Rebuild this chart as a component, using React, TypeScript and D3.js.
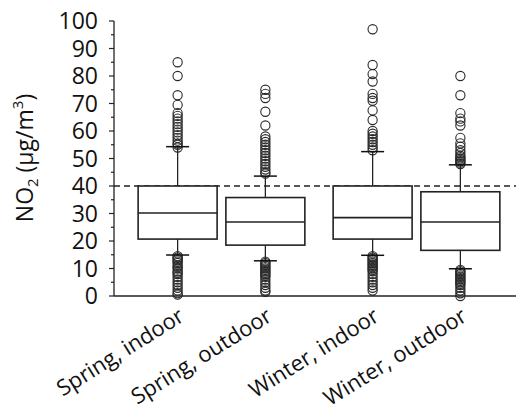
import * as d3 from "d3";
import { useEffect, useRef } from "react";

const seasons = ["Spring", "Winter"];
const places = ["indoor", "outdoor"];
const labels = ["Spring, indoor", "Spring, outdoor", "Winter, indoor", "Winter, outdoor"];

// box stats: [lowWhisker, q1, median, q3, highWhisker]
const springIndoor = [14.9, 20.7, 30.2, 40, 54.3];
const springOutdoor = [12.8, 18.5, 26.9, 35.8, 43.6];
const winterIndoor = [14.8, 20.7, 28.5, 40, 52.5];
const winterOutdoor = [9.9, 16.6, 26.9, 37.9, 47.7];

const springIndoorOut = [85, 80, 73, 69.5, 66.5, 65.5, 64.5, 63.5, 62.5, 61.5, 60.5, 59.5, 58.5, 57.5, 56.5, 55.5, 55, 54,
  14.5, 14, 13.5, 13, 12.5, 12, 11, 10.5, 10, 9, 8.5, 8, 7, 6, 5, 4, 3, 2, 1, 0.5];
const springOutdoorOut = [75, 73.5, 72, 67, 62, 58, 57, 56, 55, 54, 53, 52, 51, 50, 49, 48, 47, 46, 45, 44.5,
  12.5, 12, 11.5, 11, 10.5, 10, 9.5, 9, 8.5, 8, 7.5, 7, 6, 5, 4, 3, 2, 1.5];
const winterIndoorOut = [97, 84, 80.7, 78, 73.5, 72, 71, 67.5, 64, 60, 59, 58, 57, 56, 55, 54, 53,
  14.5, 14, 13.5, 13, 12.5, 12, 11.5, 11, 10.5, 10, 9.5, 9, 8, 7, 6, 5, 4, 3, 2];
const winterOutdoorOut = [80, 73, 66.5, 64.5, 63.5, 62, 57.5, 55.5, 54.3, 53, 52, 51, 50.5, 50, 49.5, 49, 48.5, 48,
  9.5, 9, 8.5, 8, 7.5, 7, 6.5, 6, 5.5, 5, 4.5, 4, 3, 2, 1, 0];

const yTicks = [0, 10, 20, 30, 40, 50, 60, 70, 80, 90, 100];
const limit = 40;

export default function App() {
  const ref = useRef<SVGSVGElement>(null);

  useEffect(() => {
    const width = 516,
      height = 414;
    const svg = d3.select(ref.current);
    svg.selectAll("*").remove();
    const font = "'Open Sans', sans-serif";

    const y = d3.scaleLinear().domain([0, 100]).range([296, 21]);
    const xSeason = d3.scaleBand().domain(seasons).range([124, 514]).paddingInner(0.1).paddingOuter(0.05);
    const xPlace = d3.scaleBand().domain(places).range([0, xSeason.bandwidth()]).paddingInner(0.1).paddingOuter(0.05);

    const groups = [
      { s: "Spring", p: "indoor", stats: springIndoor, out: springIndoorOut, label: labels[0] },
      { s: "Spring", p: "outdoor", stats: springOutdoor, out: springOutdoorOut, label: labels[1] },
      { s: "Winter", p: "indoor", stats: winterIndoor, out: winterIndoorOut, label: labels[2] },
      { s: "Winter", p: "outdoor", stats: winterOutdoor, out: winterOutdoorOut, label: labels[3] },
    ];
    const bw = xPlace.bandwidth();
    const cx = (g: any) => (xSeason(g.s) as number) + (xPlace(g.p) as number) + bw / 2;
    const x0 = 114;

    // dashed guideline
    svg.append("line")
      .attr("x1", x0).attr("x2", width)
      .attr("y1", y(limit)).attr("y2", y(limit))
      .attr("stroke", "#222").attr("stroke-width", 1.3)
      .attr("stroke-dasharray", "6,4");

    const g = svg.selectAll(".box").data(groups).join("g").attr("class", "box");

    // whiskers
    g.append("line")
      .attr("x1", cx).attr("x2", cx)
      .attr("y1", (d) => y(d.stats[4])).attr("y2", (d) => y(d.stats[3]))
      .attr("stroke", "#222").attr("stroke-width", 1.3);
    g.append("line")
      .attr("x1", cx).attr("x2", cx)
      .attr("y1", (d) => y(d.stats[1])).attr("y2", (d) => y(d.stats[0]))
      .attr("stroke", "#222").attr("stroke-width", 1.3);

    // outliers
    g.selectAll("circle")
      .data((d) => d.out.map((v) => ({ v, x: cx(d) })))
      .join("circle")
      .attr("cx", (d) => d.x)
      .attr("cy", (d) => y(d.v))
      .attr("r", 4.6)
      .attr("fill", "none")
      .attr("stroke", "#2a2a2a")
      .attr("stroke-width", 1.1);

    // caps
    [0, 4].forEach((i) => {
      g.append("line")
        .attr("x1", (d) => cx(d) - 11.5).attr("x2", (d) => cx(d) + 11.5)
        .attr("y1", (d) => y(d.stats[i])).attr("y2", (d) => y(d.stats[i]))
        .attr("stroke", "#111").attr("stroke-width", 1.5);
    });

    // boxes
    g.append("rect")
      .attr("x", (d) => cx(d) - bw / 2)
      .attr("width", bw)
      .attr("y", (d) => y(d.stats[3]))
      .attr("height", (d) => y(d.stats[1]) - y(d.stats[3]))
      .attr("fill", "#fff")
      .attr("stroke", "#222").attr("stroke-width", 1.6);
    g.append("line")
      .attr("x1", (d) => cx(d) - bw / 2).attr("x2", (d) => cx(d) + bw / 2)
      .attr("y1", (d) => y(d.stats[2])).attr("y2", (d) => y(d.stats[2]))
      .attr("stroke", "#222").attr("stroke-width", 1.6);

    // y axis
    const yAxis = svg.append("g").attr("transform", `translate(${x0},0)`);
    yAxis.append("line").attr("x1", 0).attr("x2", 0).attr("y1", y(100)).attr("y2", y(0))
      .attr("stroke", "#222").attr("stroke-width", 1.3);
    yAxis.selectAll(".minor").data(d3.range(0, 101, 5)).join("line")
      .attr("x1", (d) => (d % 10 === 0 ? -5 : -3)).attr("x2", 0)
      .attr("y1", (d) => y(d)).attr("y2", (d) => y(d))
      .attr("stroke", "#222").attr("stroke-width", 1.2);
    yAxis.selectAll("text").data(yTicks).join("text")
      .attr("x", -16).attr("y", (d) => y(d)).attr("dy", "0.36em")
      .attr("text-anchor", "end")
      .attr("font-family", font).attr("font-size", 23).attr("fill", "#111")
      .text((d) => d);

    // x axis line
    svg.append("line").attr("x1", x0).attr("x2", width).attr("y1", y(0)).attr("y2", y(0))
      .attr("stroke", "#222").attr("stroke-width", 1.3);

    // x labels
    svg.selectAll(".xl").data(groups).join("text")
      .attr("class", "xl")
      .attr("transform", (d) => `translate(${cx(d) + 8},320) rotate(-32)`)
      .attr("text-anchor", "end")
      .attr("font-family", font).attr("font-size", 22).attr("fill", "#111")
      .text((d) => d.label);

    // y title
    const t = svg.append("text")
      .attr("transform", `translate(33,158) rotate(-90)`)
      .attr("text-anchor", "middle")
      .attr("font-family", font).attr("font-size", 23).attr("fill", "#111");
    t.append("tspan").text("NO");
    t.append("tspan").attr("font-size", 15).attr("dy", 5).text("2");
    t.append("tspan").attr("dy", -5).text(" (µg/m");
    t.append("tspan").attr("font-size", 15).attr("dy", -10).text("3");
    t.append("tspan").attr("dy", 10).text(")");

    svg.attr("width", width).attr("height", height);
  }, []);

  return (
    <svg
      ref={ref}
      width={516}
      height={414}
      style={{ position: "absolute", left: 0, top: 0, background: "#fff" }}
    />
  );
}
